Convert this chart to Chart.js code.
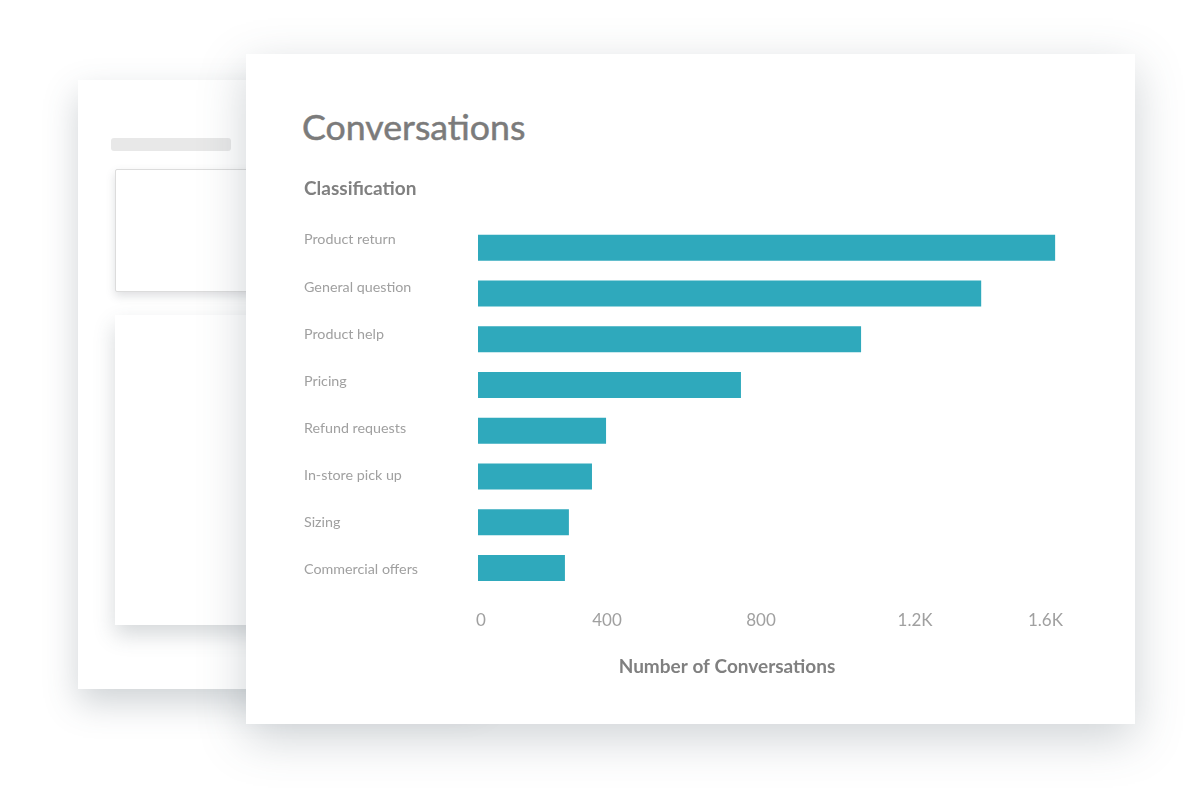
<!DOCTYPE html>
<html>
<head>
<meta charset="utf-8">
<title>Conversations</title>
<script src="https://cdn.jsdelivr.net/npm/chart.js@4"></script>
<style>
html,body{margin:0;padding:0;background:#fff;width:1200px;height:800px;overflow:hidden;font-family:Lato,sans-serif;}
.back{position:absolute;left:78px;top:80px;width:400px;height:609px;background:#fff;box-shadow:0 14px 32px rgba(70,85,95,.26);}
.bar{position:absolute;left:33px;top:58px;width:120px;height:13px;border-radius:3px;background:#e8e8e8;}
.inner1{position:absolute;left:37px;top:89px;width:300px;height:121px;background:#fff;border:1px solid #dcdcdc;border-radius:2px;box-shadow:0 4px 10px rgba(70,80,90,.18);}
.inner2{position:absolute;left:37px;top:235px;width:300px;height:310px;background:#fff;box-shadow:0 10px 20px rgba(70,80,90,.22);}
.card{position:absolute;left:246px;top:54px;width:889px;height:670px;background:#fff;box-shadow:0 14px 44px rgba(70,85,95,.26);}
h1{position:absolute;left:302px;top:105px;margin:0;font-size:35.7px;line-height:44px;font-weight:400;color:#7b7b7b;-webkit-text-stroke:.5px #7b7b7b;}
#wrap{position:absolute;left:304px;top:170px;width:846px;height:520px;}
</style>
</head>
<body>
<div class="back"><div class="bar"></div><div class="inner1"></div><div class="inner2"></div></div>
<div class="card"></div>
<h1>Conversations</h1>
<div id="wrap"><canvas id="barchart"></canvas></div>
<script>
var categories=["Product return","General question","Product help","Pricing","Refund requests","In-store pick up","Sizing","Commercial offers"];
var conversations=[1600,1395,1062,729,355,316,252,241];
var tickValues=[60,400,800,1200,1584];
var tickLabels=["0","400","800","1.2K","1.6K"];

var myChart=new Chart(document.getElementById("barchart"),{
  type:'bar',
  data:{
    labels:categories,
    datasets:[{
      label:'Number of Conversations',
      data:conversations,
      backgroundColor:'#2fa9bc',
      barPercentage:0.57,
      categoryPercentage:1,
      xAxisID:'x',
      yAxisID:'y'
    }]
  },
  options:{
    indexAxis:'y',
    responsive:true,
    maintainAspectRatio:false,
    animation:false,
    plugins:{
      legend:{display:false},
      tooltip:{enabled:false},
      title:{
        display:true,
        text:'Classification',
        align:'start',
        color:'#808080',
        font:{family:'Lato',size:19,weight:'700'},
        padding:{top:7,bottom:25}
      },
      subtitle:{
        display:true,
        text:'Number of Conversations',
        position:'bottom',
        color:'#808080',
        font:{family:'Lato',size:19,weight:'700'},
        padding:{top:12,bottom:12}
      }
    },
    scales:{
      // bars
      x:{type:'linear',min:0,max:1863,display:false},
      y:{type:'category',display:false},
      // the picture's tick labels do not sit on the bar scale, so they get their own axes
      xTicks:{
        type:'linear',
        position:'bottom',
        bounds:'data',
        min:65,
        max:1810,
        grid:{display:false},
        border:{display:false},
        afterBuildTicks:function(axis){
          axis.ticks=tickValues.map(function(v){return {value:v};});
        },
        ticks:{
          autoSkip:false,
          maxRotation:0,
          align:'inner',
          padding:12,
          color:'#a0a0a0',
          font:{family:'Lato',size:17},
          callback:function(v,i){return tickLabels[i];}
        }
      },
      yLabels:{
        type:'linear',
        position:'left',
        bounds:'data',
        offset:false,
        reverse:true,
        min:-0.318,
        max:7.445,
        grid:{display:false},
        border:{display:false},
        afterFit:function(axis){axis.width=174;},
        afterBuildTicks:function(axis){
          axis.ticks=categories.map(function(c,i){return {value:i};});
        },
        ticks:{
          autoSkip:false,
          crossAlign:'far',
          color:'#a0a0a0',
          font:{family:'Lato',size:14.3},
          callback:function(v,i){return categories[i];}
        }
      }
    }
  }
});
</script>
</body>
</html>
